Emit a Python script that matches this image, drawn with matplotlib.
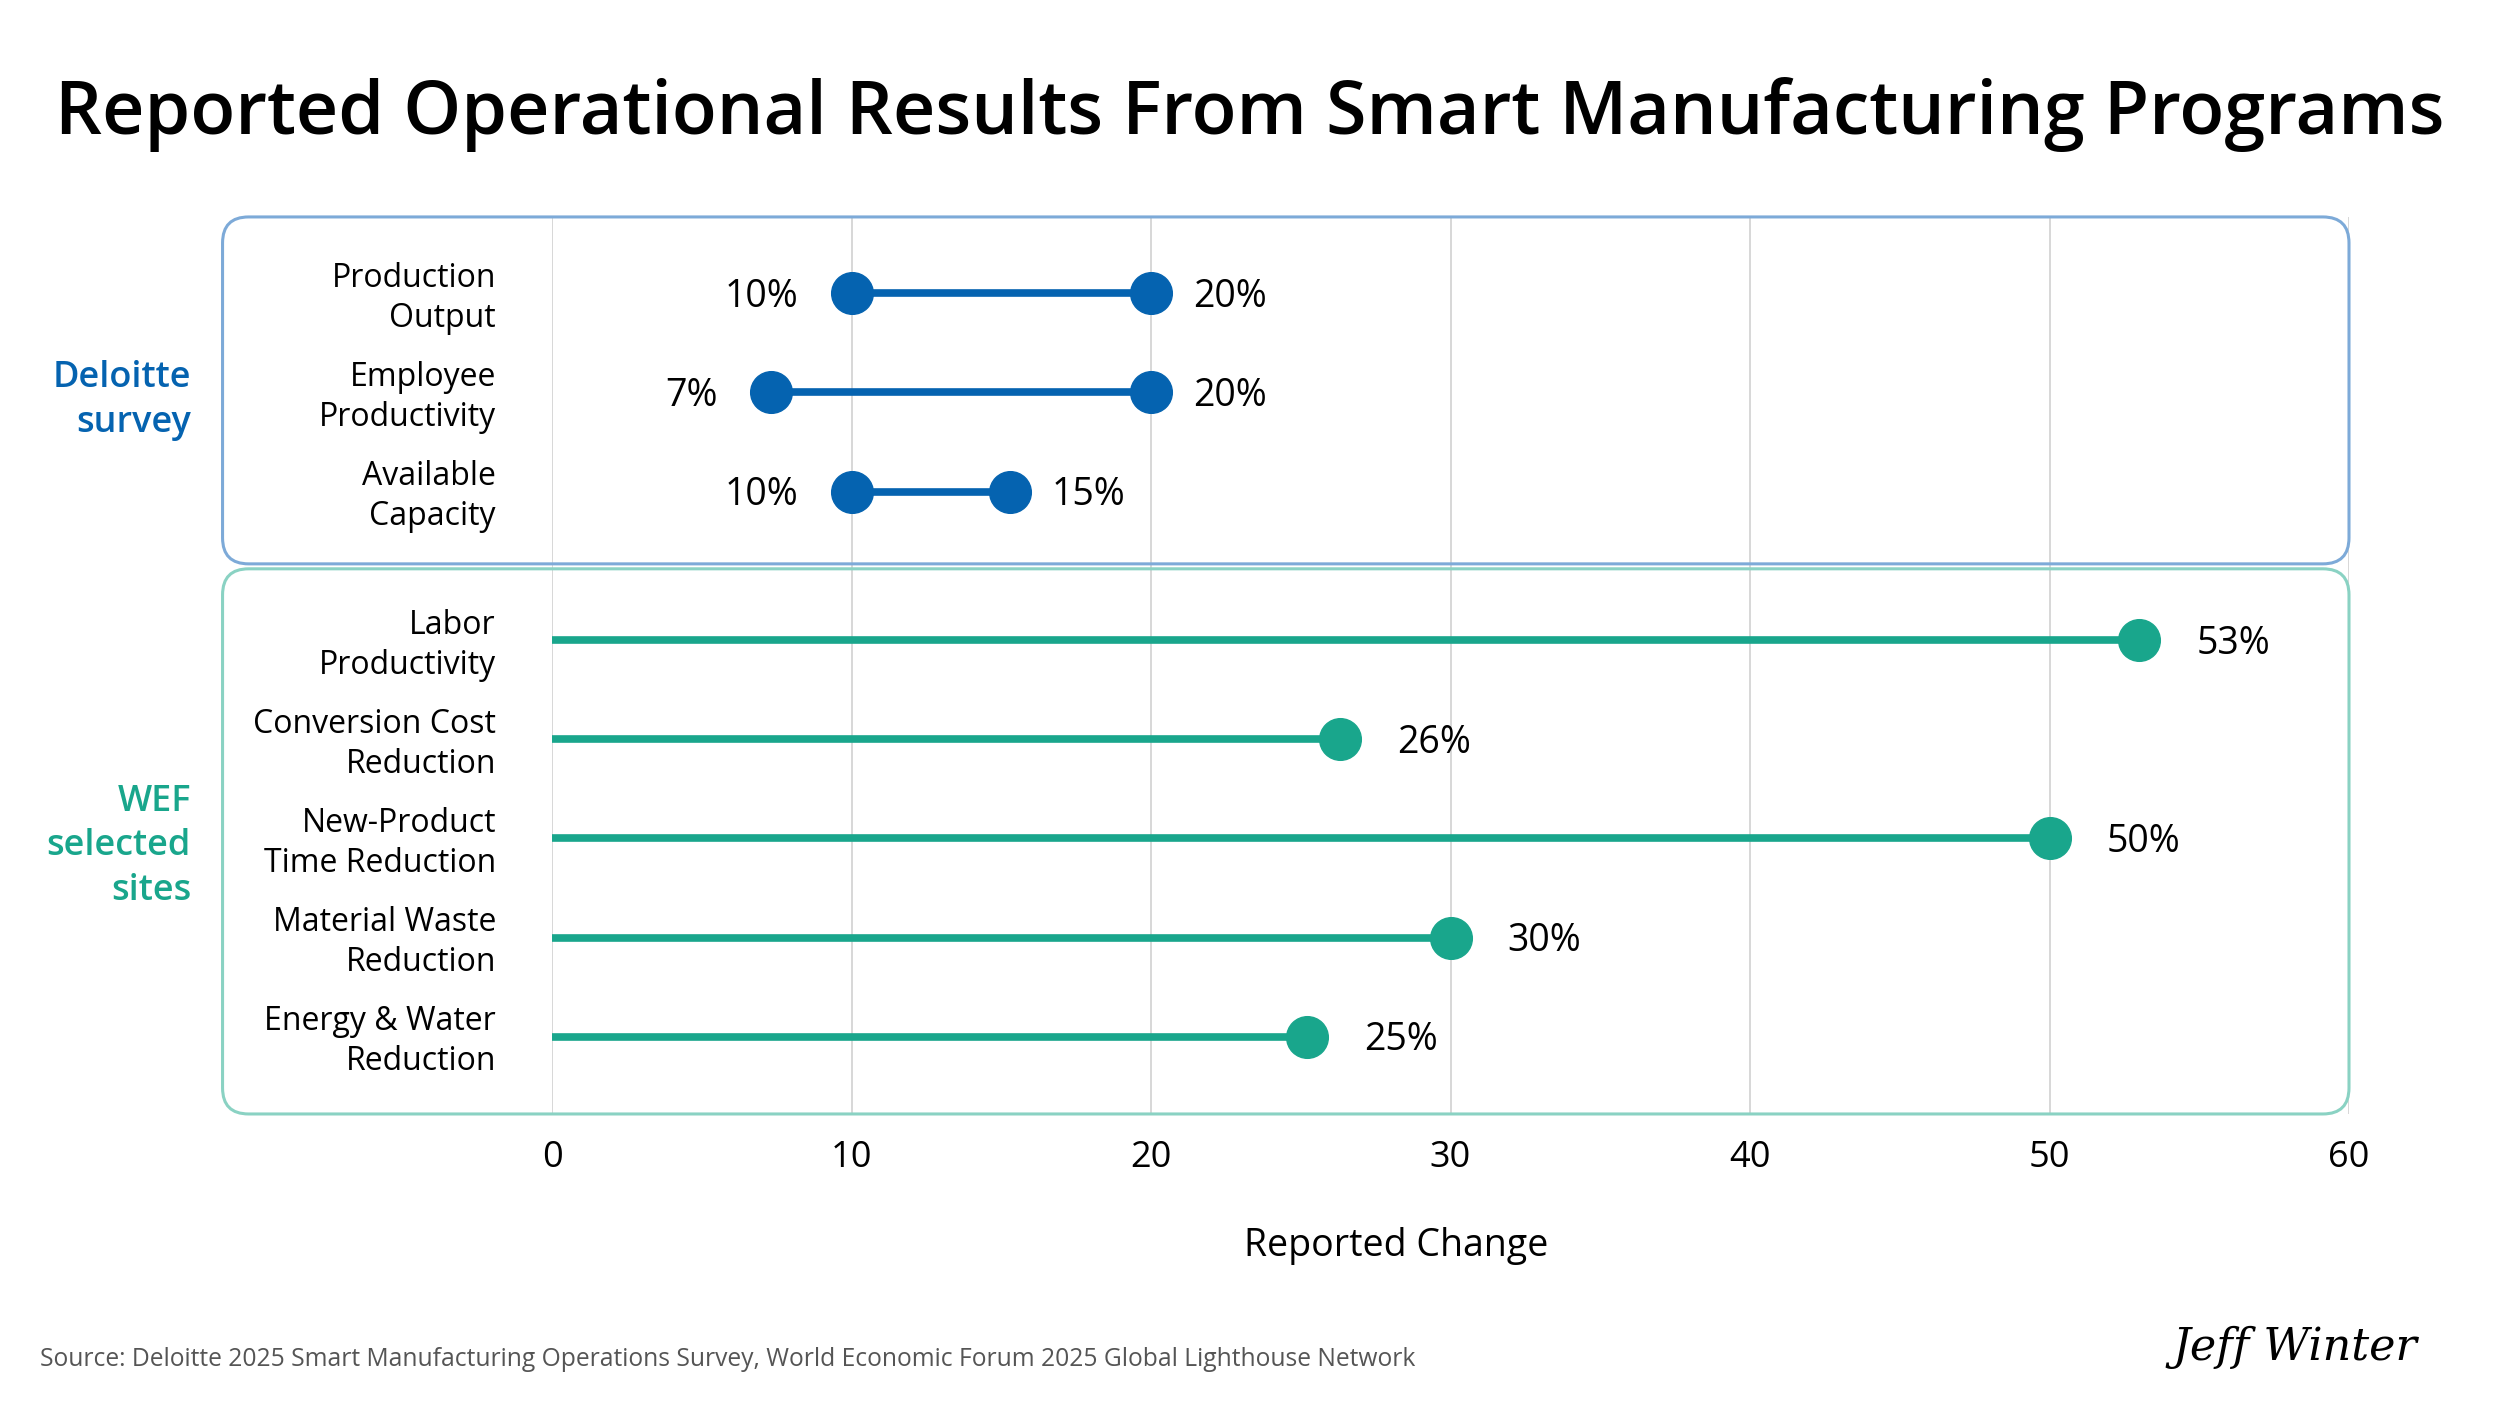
import matplotlib.pyplot as plt
from matplotlib.patches import FancyBboxPatch

plt.rcParams['font.family'] = ['Open Sans', 'DejaVu Sans']

# data
deloitte_labels = ['Production\nOutput', 'Employee\nProductivity', 'Available\nCapacity']
deloitte_low = [10, 7.3, 10]
deloitte_high = [20, 20, 15.3]
deloitte_low_txt = ['10%', '7%', '10%']
deloitte_high_txt = ['20%', '20%', '15%']

wef_labels = ['Labor\nProductivity', 'Conversion Cost\nReduction', 'New-Product\nTime Reduction',
              'Material Waste\nReduction', 'Energy & Water\nReduction']
wef_values = [53, 26.3, 50, 30, 25.2]
wef_txt = ['53%', '26%', '50%', '30%', '25%']

x_ticks = [0, 10, 20, 30, 40, 50, 60]

BLUE = '#0563B0'
TEAL = '#19A68C'
BLUE_EDGE = '#7DAAD8'
TEAL_EDGE = '#8AD2C3'

fig = plt.figure(figsize=(25, 14.06), dpi=100)
ax = fig.add_axes([0.2208, 0.2077, 0.7188, 0.638])

y_del = [0, 1, 2]
y_wef = [3.5, 4.5, 5.5, 6.5, 7.5]

ax.set_xlim(0, 60)
ax.set_ylim(8.28, -0.77)

# gridlines
for t in x_ticks:
    ax.axvline(t, color='#D4D4D4', lw=1.3, zorder=0)

# panels
ax.add_patch(FancyBboxPatch((-11, -0.77), 71, 3.5,
                            boxstyle='round,pad=0,rounding_size=0.87', mutation_aspect=0.302,
                            fc='none', ec=BLUE_EDGE, lw=2.2, clip_on=False, zorder=1))
ax.add_patch(FancyBboxPatch((-11, 2.78), 71, 5.50,
                            boxstyle='round,pad=0,rounding_size=0.87', mutation_aspect=0.302,
                            fc='none', ec=TEAL_EDGE, lw=2.2, clip_on=False, zorder=1))

# deloitte dumbbells
ax.hlines(y_del, deloitte_low, deloitte_high, color=BLUE, lw=5.5, zorder=3)
ax.plot(deloitte_low, y_del, 'o', color=BLUE, ms=30, zorder=4)
ax.plot(deloitte_high, y_del, 'o', color=BLUE, ms=30, zorder=4)
for y, lo, hi, lt, ht in zip(y_del, deloitte_low, deloitte_high, deloitte_low_txt, deloitte_high_txt):
    ax.annotate(lt, (lo, y), xytext=(-38, -2.5), textcoords='offset points',
                ha='right', va='center', fontsize=27)
    ax.annotate(ht, (hi, y), xytext=(30, -2.5), textcoords='offset points',
                ha='left', va='center', fontsize=27)

# wef lollipops
ax.hlines(y_wef, 0, wef_values, color=TEAL, lw=5.5, zorder=3)
ax.plot(wef_values, y_wef, 'o', color=TEAL, ms=30, zorder=4)
for y, v, t in zip(y_wef, wef_values, wef_txt):
    ax.annotate(t, (v, y), xytext=(41, -2.5), textcoords='offset points',
                ha='left', va='center', fontsize=27)

# category labels
for y, lab in zip(y_del + y_wef, deloitte_labels + wef_labels):
    ax.text(-1.87, y + 0.05, lab, ha='right', va='center', fontsize=23, linespacing=1.28)

# group labels
ax.text(-12.05, 1.08, 'Deloitte\nsurvey', ha='right', va='center', fontsize=26,
        fontweight='semibold', color=BLUE, linespacing=1.32)
ax.text(-12.05, 5.58, 'WEF\nselected\nsites', ha='right', va='center', fontsize=26,
        fontweight='semibold', color=TEAL, linespacing=1.32)

ax.set_xticks(x_ticks)
ax.set_yticks([])
ax.tick_params(axis='x', length=0, labelsize=26, pad=18.5)
for s in ax.spines.values():
    s.set_visible(False)

fig.text(0.5585, 1 - 1246 / 1406, 'Reported Change', ha='center', va='center', fontsize=27)

fig.suptitle('Reported Operational Results From Smart Manufacturing Programs',
             x=0.5, y=1 - 114 / 1406, va='center', fontsize=53, fontweight='semibold')

fig.text(0.016, 1 - 1360 / 1406,
         'Source: Deloitte 2025 Smart Manufacturing Operations Survey, World Economic Forum 2025 Global Lighthouse Network',
         ha='left', va='center', fontsize=17.7, color='#555555')

fig.text(0.918, 1 - 1347 / 1406, 'Jeff Winter', ha='center', va='center', fontsize=32,
         style='italic', family='DejaVu Serif', color='black')

fig.savefig('out.png', dpi=100)
